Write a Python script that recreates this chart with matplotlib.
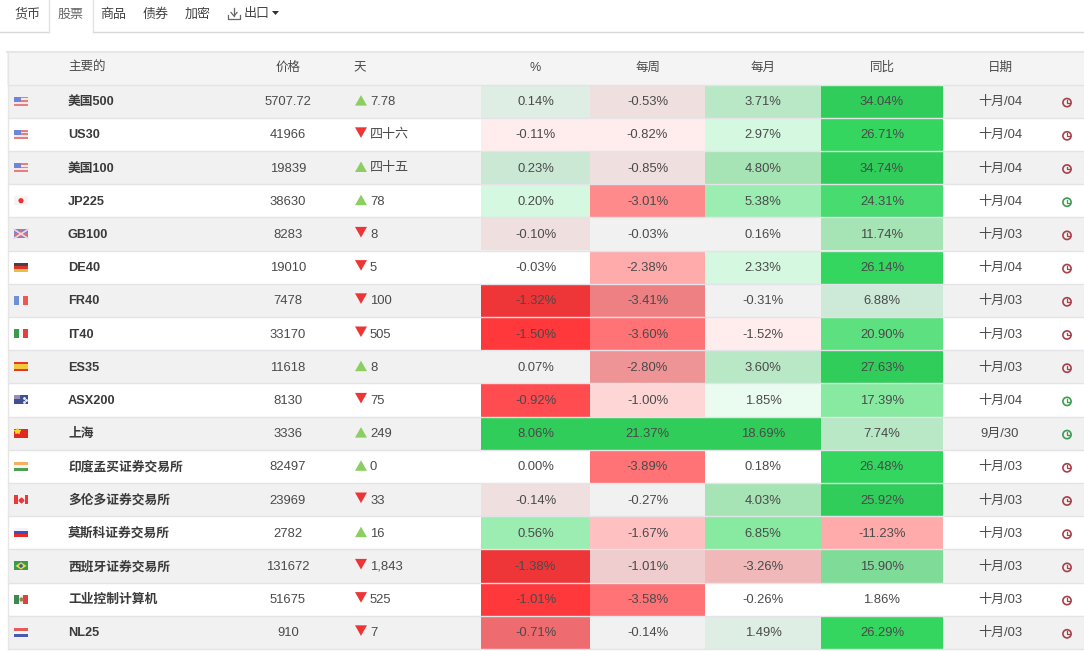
"""
plot.py - stock index heat table, drawn from typed values
"""
import matplotlib
matplotlib.use("Agg")
import matplotlib.pyplot as plt
from matplotlib.patches import Rectangle, Polygon, Circle

plt.rcParams["font.family"] = ["Liberation Sans", "Noto Sans CJK SC", "DejaVu Sans"]

TABS    = ["货币", "股票", "商品", "债券", "加密"]
HEADERS = ["%", "每周", "每月", "同比"]

NAMES  = ["美国500", "US30", "美国100", "JP225", "GB100", "DE40", "FR40", "IT40", "ES35", "ASX200",
          "上海", "印度孟买证券交易所", "多伦多证券交易所", "莫斯科证券交易所", "西班牙证券交易所",
          "工业控制计算机", "NL25"]
FLAGS  = ["us", "us", "us", "jp", "gb", "de", "fr", "it", "es", "au",
          "cn", "in", "ca", "ru", "br", "mx", "nl"]
PRICES = ["5707.72", "41966", "19839", "38630", "8283", "19010", "7478", "33170", "11618", "8130",
          "3336", "82497", "23969", "2782", "131672", "51675", "910"]
DAY    = ["7.78", "四十六", "四十五", "78", "8", "5", "100", "505", "8", "75",
          "249", "0", "33", "16", "1,843", "525", "7"]
DAY_UP = [1, 0, 1, 1, 0, 0, 0, 0, 1, 0, 1, 1, 0, 1, 0, 0, 0]
PCT    = ["0.14%", "-0.11%", "0.23%", "0.20%", "-0.10%", "-0.03%", "-1.32%", "-1.50%", "0.07%", "-0.92%",
          "8.06%", "0.00%", "-0.14%", "0.56%", "-1.38%", "-1.01%", "-0.71%"]
WEEK   = ["-0.53%", "-0.82%", "-0.85%", "-3.01%", "-0.03%", "-2.38%", "-3.41%", "-3.60%", "-2.80%", "-1.00%",
          "21.37%", "-3.89%", "-0.27%", "-1.67%", "-1.01%", "-3.58%", "-0.14%"]
MONTH  = ["3.71%", "2.97%", "4.80%", "5.38%", "0.16%", "2.33%", "-0.31%", "-1.52%", "3.60%", "1.85%",
          "18.69%", "0.18%", "4.03%", "6.85%", "-3.26%", "-0.26%", "1.49%"]
YEAR   = ["34.04%", "26.71%", "34.74%", "24.31%", "11.74%", "26.14%", "6.88%", "20.90%", "27.63%", "17.39%",
          "7.74%", "26.48%", "25.92%", "-11.23%", "15.90%", "1.86%", "26.29%"]
DATES  = ["十月/04", "十月/04", "十月/04", "十月/04", "十月/03", "十月/04", "十月/03", "十月/03", "十月/03", "十月/04",
          "9月/30", "十月/03", "十月/03", "十月/03", "十月/03", "十月/03", "十月/03"]
CLOCK_UP = [0, 0, 0, 1, 0, 0, 0, 0, 0, 1, 1, 0, 0, 0, 0, 0, 0]

# cell colours, one list per column
PCT_C   = ["#deeee4", "#ffecec", "#cbe8d5", "#d4f8e0", "#f0dfdf", "#ffffff", "#ee3638", "#ff383c", "#f1f1f1", "#ff4c50",
           "#30cd5a", "#ffffff", "#f0dfdf", "#9bedb1", "#ee3638", "#ff383c", "#ee6c70"]
WEEK_C  = ["#f0dfdf", "#ffecec", "#f0dfdf", "#ff8a8c", "#f1f1f1", "#ffabac", "#ee8083", "#ff7275", "#ef9496", "#ffd6d6",
           "#30cd5a", "#ff7275", "#f1f1f1", "#ffc0c2", "#efcccd", "#ff7275", "#f1f1f1"]
MONTH_C = ["#b8e8c5", "#d4f8e0", "#a6e3b5", "#9bedb1", "#f1f1f1", "#d4f8e0", "#f1f1f1", "#ffecec", "#b8e8c5", "#eafbf0",
           "#30cd5a", "#ffffff", "#a6e3b5", "#87eaa0", "#f0b8b9", "#ffffff", "#deeee4"]
YEAR_C  = ["#30cd5a", "#34d660", "#30cd5a", "#47db70", "#a6e3b5", "#34d660", "#cde9d8", "#5ce080", "#30cd5a", "#87eaa0",
           "#b8e8c5", "#34d660", "#30cd5a", "#ffabac", "#7edb98", "#ffffff", "#34d660"]

ROW_TOP = 84.5
ROW_H   = 33.2
COL_X   = [481, 590, 705, 821, 943]
TEXT    = "#4a4a4a"
LINE    = "#e3e3e8"
UP_G    = "#8cce62"
DOWN_R  = "#ee3535"
DY      = 1.0          # text sits a little under the row centre


# ── flags ──────────────────────────────────────────────────────────────────────

def _band(ax, x0, y0, w, h, color):
    ax.add_patch(Rectangle((x0, y0), w, h, fc=color, ec="none", zorder=4))


def _stripes(ax, y, colors, vertical=False):
    n = len(colors)
    for i, c in enumerate(colors):
        if vertical:
            _band(ax, 14 + i*14/n, y-4.5, 14/n, 9, c)
        else:
            _band(ax, 14, y-4.5 + i*9/n, 14, 9/n, c)


def _flag(ax, code, y):
    if code == "us":
        _stripes(ax, y, ["#e57f80", "#f6e6e6", "#e57f80", "#f6e6e6", "#e57f80"])
        _band(ax, 14, y-4.5, 7, 5, "#6f86d8")
    elif code == "jp":
        _band(ax, 14, y-4.5, 14, 9, "#f4f4f4")
        ax.add_patch(Circle((21, y), 2.6, fc="#f03030", ec="none", zorder=5))
    elif code == "gb":
        _band(ax, 14, y-4.5, 14, 9, "#7a83cf")
        ax.plot([14, 28], [y-4.5, y+4.5], color="#f0d8dc", lw=1.2, zorder=5)
        ax.plot([14, 28], [y+4.5, y-4.5], color="#f0d8dc", lw=1.2, zorder=5)
        _band(ax, 20, y-4.5, 2, 9, "#e06a78")
        _band(ax, 14, y-1, 14, 2, "#e06a78")
    elif code == "de":
        _stripes(ax, y, ["#4a4040", "#d8352f", "#e8c040"])
    elif code == "fr":
        _stripes(ax, y, ["#6f8fd8", "#f4f4f8", "#ee5a50"], True)
    elif code == "it":
        _stripes(ax, y, ["#3c9a4c", "#f6f6f6", "#ee3a3a"], True)
    elif code == "es":
        _stripes(ax, y, ["#e8352a", "#f5c93c", "#f5c93c", "#e8352a"])
    elif code == "au":
        _band(ax, 14, y-4.5, 14, 9, "#3f4f92")
        _band(ax, 14, y-4.5, 6, 4, "#9a8db8")
        ax.plot([24, 26, 24], [y-2, y, y+2.5], ls="none", marker=".", ms=2, color="#f0f0f0", zorder=5)
    elif code == "cn":
        _band(ax, 14, y-4.5, 14, 9, "#e02a20")
        ax.plot([17], [y-2], marker="*", ms=4, color="#f8d030", zorder=5)
    elif code == "in":
        _stripes(ax, y, ["#f4b060", "#f4f4f4", "#4ea050"])
    elif code == "ca":
        _stripes(ax, y, ["#e83a3a", "#f8f0f0", "#f8f0f0", "#e83a3a"], True)
        ax.plot([21], [y], marker="D", ms=2.5, color="#e83a3a", zorder=5)
    elif code == "ru":
        _stripes(ax, y, ["#f4f4f8", "#3a50c8", "#e82a2a"])
    elif code == "br":
        _band(ax, 14, y-4.5, 14, 9, "#3d9a48")
        ax.add_patch(Polygon([(15.5, y), (21, y-3.7), (26.5, y), (21, y+3.7)], fc="#e8d850", ec="none", zorder=5))
        ax.add_patch(Circle((21, y), 1.8, fc="#3a5aa0", ec="none", zorder=6))
    elif code == "mx":
        _stripes(ax, y, ["#3c8a50", "#f0f0ee", "#e04040"], True)
        ax.plot([21], [y], marker="o", ms=2, color="#a08050", zorder=5)
    elif code == "nl":
        _stripes(ax, y, ["#e85a5a", "#f6f6f6", "#4a5ab0"])


def _clock(ax, y, up):
    c = "#3c9c50" if up else "#a8404c"
    ax.add_patch(Circle((1067, y+1.5), 4.1, fc="none", ec=c, lw=1.2, zorder=4))
    ax.plot([1067, 1067, 1069.5], [y-1, y+1.8, y+1.8], color=c, lw=0.9, zorder=4)


def _triangle(ax, y, up):
    if up:
        pts = [(355, y+4.5), (367, y+4.5), (361, y-6)]
    else:
        pts = [(355, y-7), (367, y-7), (361, y+3.6)]
    ax.add_patch(Polygon(pts, fc=UP_G if up else DOWN_R, ec="none", zorder=4))


# ── page ───────────────────────────────────────────────────────────────────────

def _tabs(ax):
    ax.plot([0, 49], [32, 32], color="#d8d8d8", lw=1)
    ax.plot([92.5, 1084], [32, 32], color="#d8d8d8", lw=1)
    ax.plot([49, 49], [32, 0], color="#e2e2e2", lw=1)
    ax.plot([92.5, 92.5], [32, 0], color="#e2e2e2", lw=1)
    for tab, x in zip(TABS, [27.5, 70.5, 113.5, 155.5, 198]):
        col = "#666666" if tab == "股票" else "#444444"
        ax.text(x, 14.5, tab, fontsize=9.4, color=col, ha="center", va="center")
    # download icon
    ax.plot([228, 228, 240, 240], [15, 18.5, 18.5, 15], color="#666666", lw=0.9)
    ax.plot([234, 234], [8, 15.5], color="#666666", lw=0.9)
    ax.plot([231, 234, 237], [12.5, 16, 12.5], color="#666666", lw=0.9)
    ax.text(257, 14.5, "出口", fontsize=9.4, color="#444444", ha="center", va="center")
    ax.add_patch(Polygon([(272, 11), (279, 11), (275.5, 15)], fc="#333333", ec="none"))


def generate_table_plot():
    fig, ax = plt.subplots(figsize=(10.84, 6.51), dpi=100)
    fig.subplots_adjust(left=0, right=1, bottom=0, top=1)
    ax.set_xlim(0, 1084)
    ax.set_ylim(651, 0)
    ax.axis("off")

    _tabs(ax)

    # header band
    ax.add_patch(Rectangle((7, 51), 1077, ROW_TOP-51, fc="#f4f4f4", ec="none"))
    ax.plot([7, 1084], [51.5, 51.5], color="#e6e6e6", lw=1.5)
    ax.text(68, 68, "主要的", fontsize=9, color=TEXT, va="center")
    ax.text(288, 68, "价格", fontsize=9, color=TEXT, ha="center", va="center")
    ax.text(360, 68, "天", fontsize=9, color=TEXT, ha="center", va="center")
    for head, left, right in zip(HEADERS, COL_X[:-1], COL_X[1:]):
        ax.text((left+right)/2, 68, head, fontsize=9, color=TEXT, ha="center", va="center")
    ax.text(1000, 68, "日期", fontsize=9, color=TEXT, ha="center", va="center")

    for i, name in enumerate(NAMES):
        top = ROW_TOP + i*ROW_H
        mid = top + ROW_H/2
        txt = mid + DY
        if i % 2 == 0:
            ax.add_patch(Rectangle((8, top), 1076, ROW_H, fc="#f1f1f1", ec="none"))
        ax.plot([8, 1084], [top, top], color=LINE, lw=1, zorder=3)

        _flag(ax, FLAGS[i], mid)
        ax.text(68, txt, name, fontsize=9.2, color="#3a3a3a", va="center", fontweight="bold")
        ax.text(288, txt, PRICES[i], fontsize=9.4, color=TEXT, ha="center", va="center")
        _triangle(ax, mid, DAY_UP[i])
        ax.text(370, txt, DAY[i], fontsize=9.4, color=TEXT, va="center")

        columns = [(PCT, PCT_C), (WEEK, WEEK_C), (MONTH, MONTH_C), (YEAR, YEAR_C)]
        for j, (vals, cols) in enumerate(columns):
            left, right = COL_X[j], COL_X[j+1]
            if cols[i] != "#ffffff":
                ax.add_patch(Rectangle((left, top+0.6), right-left, ROW_H-0.6, fc=cols[i], ec="none", zorder=2))
            ax.text((left+right)/2, txt, vals[i], fontsize=9.4, color=TEXT, ha="center", va="center", zorder=5)

        ax.text(1000, txt, DATES[i], fontsize=9.4, color=TEXT, ha="center", va="center")
        _clock(ax, mid, CLOCK_UP[i])

    bottom = ROW_TOP + len(NAMES)*ROW_H
    ax.plot([8, 1084], [bottom, bottom], color=LINE, lw=1, zorder=3)
    ax.plot([7.5, 7.5], [51, bottom], color="#e6e6e6", lw=1, zorder=3)

    fig.savefig("out.png", dpi=100)
    plt.close(fig)


generate_table_plot()
